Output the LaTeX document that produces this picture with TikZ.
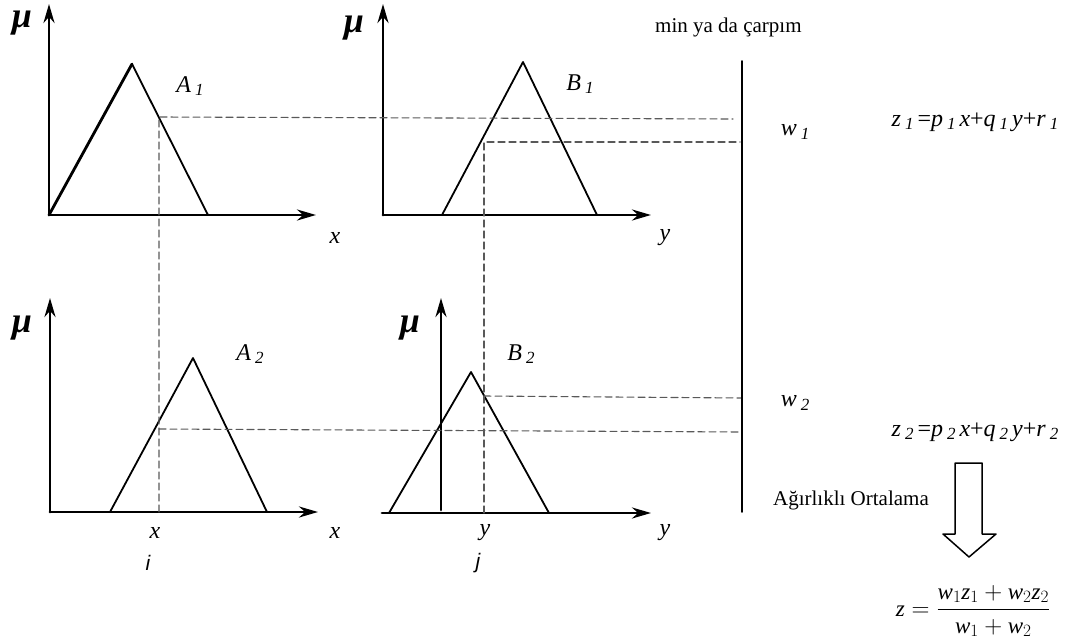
\documentclass[tikz,border=0pt]{standalone}
\usepackage{fontspec}
\usepackage{amsmath}
\setmainfont{Liberation Serif}
\setsansfont{Liberation Sans}
\usetikzlibrary{arrows.meta}

% italic letter with a small lowered index, as in the figure
\newcommand{\lbl}[2]{\textit{#1}\,\raisebox{-0.3ex}{\fontsize{17}{17}\selectfont\textit{#2}}}
\newcommand{\iv}[1]{\text{\itshape #1}}

\tikzset{
  axis/.style={line width=2.8pt, -{Stealth[length=19pt,width=11pt]}},
  memb/.style={line width=1.8pt},
  guide/.style={dash pattern=on 7pt off 4pt, line width=1.1pt, draw=black!65},
  lab/.style={font=\fontsize{24}{28}\selectfont, inner sep=0pt},
  txt/.style={font=\fontsize{21}{25}\selectfont, inner sep=0pt},
  mu/.style={font=\fontsize{36}{36}\selectfont\bfseries\itshape, inner sep=0pt},
}

\begin{document}
\begin{tikzpicture}[line cap=round, line join=round, >=Stealth, x=1pt, y=-1pt]
  \useasboundingbox (0,0) rectangle (1072,643);

  % panel origins
  \coordinate (oA1) at (49,215);
  \coordinate (oB1) at (383,215);
  \coordinate (oA2) at (50,512);
  \coordinate (oB2) at (382,513);

  % axes
  \draw[axis] (oA1) -- (49,4);
  \draw[axis] (oA1) -- (316,215);
  \draw[axis] (oB1) -- (383,4);
  \draw[axis] (oB1) -- (651,215);
  \draw[axis] (oA2) -- (50,298);
  \draw[axis] (oA2) -- (318,512);
  \draw[axis] (441,510) -- (441,298);
  \draw[axis] (oB2) -- (651,513);

  % membership functions
  \draw[line width=2.8pt] (49,215) -- (132,64);
  \draw[memb] (132,64) -- (208,215);
  \draw[memb] (442,215) -- (523,62) -- (597,215);
  \draw[memb] (110,512) -- (193,358) -- (267,512);
  \draw[memb] (389,513) -- (471,372) -- (549,513);

  % firing levels
  \draw[guide] (159,512) -- (159,117) -- (733,119);
  \draw[guide] (484,513) -- (484,142) -- (740,142);
  \draw[guide] (159,429) -- (742,432);
  \draw[guide] (484,396) -- (742,398);

  \draw[line width=1.8pt] (742,61) -- (742,512);

  % hollow arrow
  \draw[line width=1.5pt] (955,463) -- (982,463) -- (982,534) -- (996,534)
    -- (969,557) -- (943,534) -- (955,534) -- cycle;

  % labels
  \node[mu] (muA1) at (22,23) {μ};
  \node[mu] (muB1) at (354,28) {μ};
  \node[mu] (muA2) at (22,328) {μ};
  \node[mu] (muB2) at (410,328) {μ};

  \node[lab] (tA1) at (190,86) {\lbl{A}{1}};
  \node[lab] (tB1) at (580,84) {\lbl{B}{1}};
  \node[lab] (tA2) at (250,354) {\lbl{A}{2}};
  \node[lab] (tB2) at (521,354) {\lbl{B}{2}};

  \node[lab] (xA1) at (335,238) {\textit{x}};
  \node[lab] (yB1) at (665,238) {\textit{y}};
  \node[lab] (xA2) at (335,533) {\textit{x}};
  \node[lab] (yB2) at (665,533) {\textit{y}};
  \node[lab] (xi) at (155,533) {\textit{x}};
  \node[lab] (yj) at (485,533) {\textit{y}};
  \node[lab, font=\fontsize{21}{24}\selectfont\sffamily\itshape] (ii) at (148,563) {i};
  \node[lab, font=\fontsize{21}{24}\selectfont\sffamily\itshape] (jj) at (478,563) {j};

  \node[txt, anchor=west] (rule) at (655,27) {min ya da çarpım};
  \node[lab] (w1) at (795,132) {\lbl{w}{1}};
  \node[lab] (w2) at (795,403) {\lbl{w}{2}};
  \node[lab] (z1) at (975,122) {\lbl{z}{1}\,=\lbl{p}{1}\,\textit{x}+\lbl{q}{1}\,\textit{y}+\lbl{r}{1}};
  \node[lab] (z2) at (975,432) {\lbl{z}{2}\,=\lbl{p}{2}\,\textit{x}+\lbl{q}{2}\,\textit{y}+\lbl{r}{2}};
  \node[txt, anchor=east] (avg) at (929,500) {Ağırlıklı Ortalama};
  \node[txt, font=\fontsize{23}{27}\selectfont] (zout) at (973,611)
    {$\iv{z} = \dfrac{\iv{w}_1\iv{z}_1 + \iv{w}_2\iv{z}_2}{\iv{w}_1 + \iv{w}_2}$};
\end{tikzpicture}
\end{document}
